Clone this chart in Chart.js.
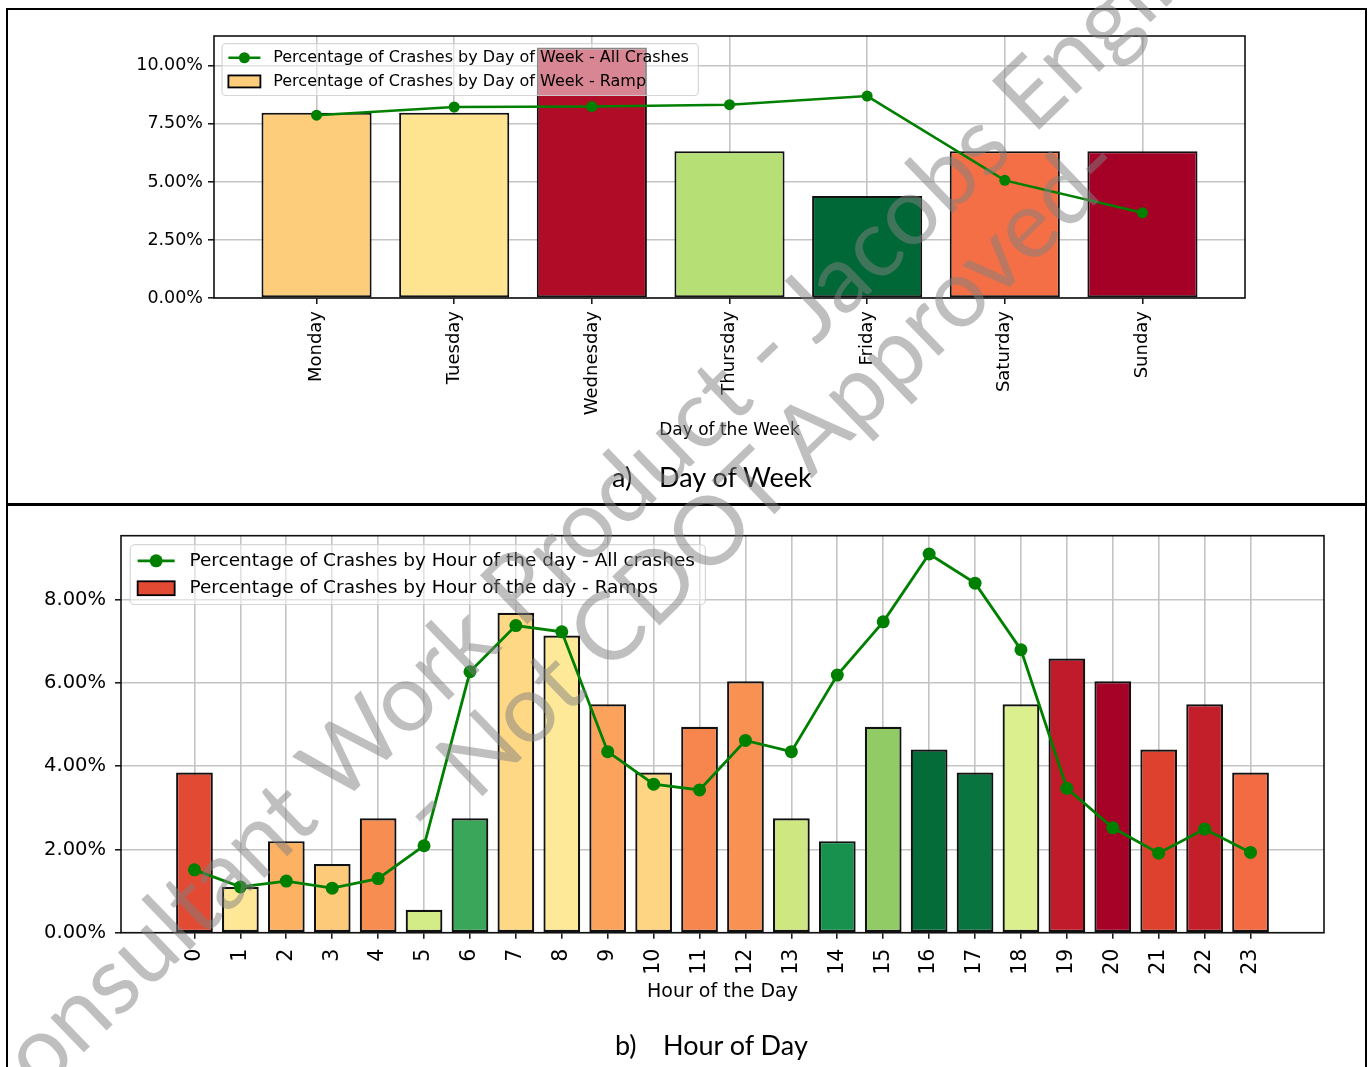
<!DOCTYPE html>
<html>
<head>
<meta charset="utf-8">
<title>Crash distribution by day of week and hour of day</title>
<script src="https://cdn.jsdelivr.net/npm/chart.js@4.4.1/dist/chart.umd.min.js"></script>
<style>
  html, body { margin: 0; padding: 0; background: #fff; }
  body { position: relative; width: 1368px; height: 1067px; overflow: hidden; }
  .panel { position: absolute; left: 0; width: 1368px; }
  .rule { position: absolute; background: #000; z-index: 3; }
  .caption { position: absolute; z-index: 2; font-family: Lato, "Open Sans", sans-serif; font-size: 27px; line-height: 27px; color: #000; white-space: pre; }
  .stamp { position: absolute; z-index: 5; pointer-events: none; font-family: Lato, "Open Sans", sans-serif; font-size: 95px; line-height: 95px; color: rgba(128,128,128,0.5); white-space: pre; transform-origin: 0 50%; }
</style>
</head>
<body>
<div class="panel" style="top:0;height:503px"><canvas id="dayChart"></canvas></div>
<div class="panel" style="top:505px;height:562px"><canvas id="hourChart"></canvas></div>

<div class="rule" style="left:6px;top:8px;width:1361px;height:2px"></div>
<div class="rule" style="left:6px;top:8px;width:2px;height:1059px"></div>
<div class="rule" style="left:1365px;top:8px;width:2px;height:1059px"></div>
<div class="rule" style="left:6px;top:503px;width:1361px;height:3px"></div>

<div class="caption" style="left:612px;top:463px">a)</div>
<div class="caption" style="left:659px;top:463px">Day of Week</div>
<div class="caption" style="left:615px;top:1031px">b)</div>
<div class="caption" style="left:663px;top:1031px">Hour of Day</div>

<div class="stamp" style="left:-30px;top:1064px;transform:rotate(-44deg)">Consultant Work Product - Jacobs Engineering</div>
<div class="stamp" style="left:408px;top:770px;transform:rotate(-44deg)">- Not CDOT Approved-</div>

<script>
// ---- Day of week ----
const days = ['Monday', 'Tuesday', 'Wednesday', 'Thursday', 'Friday', 'Saturday', 'Sunday'];
const dayRampPct = [7.98, 7.98, 10.79, 6.32, 4.39, 6.32, 6.32];
const dayAllPct = [7.88, 8.23, 8.25, 8.33, 8.70, 5.07, 3.67];
const dayAxisTicks = [0, 2.5, 5, 7.5, 10];

// ---- Hour of day ----
const hours = ['0', '1', '2', '3', '4', '5', '6', '7', '8', '9', '10', '11',
               '12', '13', '14', '15', '16', '17', '18', '19', '20', '21', '22', '23'];
const hourRampPct = [3.85, 1.10, 2.20, 1.65, 2.75, 0.55, 2.75, 7.69, 7.14, 5.49, 3.85, 4.95,
                     6.04, 2.75, 2.20, 4.95, 4.40, 3.85, 5.49, 6.59, 6.04, 4.40, 5.49, 3.85];
const hourAllPct = [1.51, 1.10, 1.24, 1.07, 1.30, 2.09, 6.27, 7.38, 7.23, 4.35, 3.57, 3.43,
                    4.62, 4.35, 6.19, 7.47, 9.10, 8.40, 6.80, 3.47, 2.52, 1.91, 2.49, 1.93];
const hourAxisTicks = [0, 2, 4, 6, 8];

// bar fills (RdYlGn shades)
const dayBarColors = ['#fdcd7b', '#fee391', '#b00c27', '#b6df75', '#006837', '#f46f45', '#a50026'];
const hourBarColors = ['#e24a33', '#fee797', '#fdb163', '#fdca79', '#f88d51', '#d3ec87', '#3aa659',
                       '#fed884', '#fee999', '#fba35d', '#fed683', '#f7864e', '#f99153', '#cfe780',
                       '#18914f', '#91cb66', '#036c39', '#08743f', '#dbef8f', '#bf1b2b', '#a60126',
                       '#de422f', '#c31f2a', '#f36b43'];

const GREEN = '#008000';
const GRID = '#c4c4c4';
const FONT = '"DejaVu Sans", sans-serif';

// axes frame on all four sides plus an in-plot legend box
const frameAndLegend = {
  id: 'frameAndLegend',
  afterDatasetsDraw(chart, args, opts) {
    const { ctx, chartArea: a } = chart;
    ctx.save();
    ctx.strokeStyle = '#111';
    ctx.lineWidth = 1.6;
    ctx.strokeRect(a.left, a.top, a.right - a.left, a.bottom - a.top);

    const fs = opts.fontSize;
    ctx.font = fs + 'px ' + FONT;
    const items = chart.data.datasets.map(ds => ({
      text: ds.label,
      kind: ds.type,
      color: Array.isArray(ds.backgroundColor) ? ds.backgroundColor[0] : ds.backgroundColor
    }));
    const textW = Math.max(...items.map(it => ctx.measureText(it.text).width));
    const pad = 0.4 * fs, handle = 2 * fs, gap = 0.8 * fs;
    const rowStep = 1.48 * fs, padV = 0.88 * fs;
    const x0 = a.left + 0.5 * fs, y0 = a.top + 0.48 * fs;
    const w = pad + handle + gap + textW + pad + 3;
    const h = 2 * padV + rowStep * (items.length - 1);

    ctx.beginPath();
    ctx.roundRect(x0, y0, w, h, 0.25 * fs);
    ctx.fillStyle = 'rgba(255,255,255,0.5)';
    ctx.fill();
    ctx.strokeStyle = 'rgba(210,210,210,0.9)';
    ctx.lineWidth = 1.2;
    ctx.stroke();

    items.forEach((it, i) => {
      const cy = y0 + padV + i * rowStep;
      const hx = x0 + pad;
      if (it.kind === 'line') {
        ctx.strokeStyle = it.color;
        ctx.lineWidth = opts.lineWidth;
        ctx.beginPath();
        ctx.moveTo(hx, cy);
        ctx.lineTo(hx + handle, cy);
        ctx.stroke();
        ctx.fillStyle = it.color;
        ctx.beginPath();
        ctx.arc(hx + handle / 2, cy, opts.markerRadius, 0, 2 * Math.PI);
        ctx.fill();
      } else {
        const sh = 0.75 * fs;
        ctx.fillStyle = it.color;
        ctx.fillRect(hx, cy - sh / 2, handle, sh);
        ctx.strokeStyle = '#000';
        ctx.lineWidth = 1.8;
        ctx.strokeRect(hx, cy - sh / 2, handle, sh);
      }
      ctx.fillStyle = '#000';
      ctx.textAlign = 'left';
      ctx.textBaseline = 'middle';
      ctx.fillText(it.text, hx + handle + gap, cy);
    });
    ctx.restore();
  }
};

function buildChart(id, spec) {
  return new Chart(document.getElementById(id), {
    type: 'bar',
    data: {
      datasets: [
        {
          type: 'line',
          label: spec.lineLabel,
          data: spec.lineVals.map((v, i) => ({ x: i, y: v })),
          borderColor: GREEN,
          backgroundColor: GREEN,
          borderWidth: spec.lineWidth,
          pointRadius: spec.markerRadius,
          pointHoverRadius: spec.markerRadius,
          pointBorderWidth: 0,
          tension: 0,
          order: 0
        },
        {
          type: 'bar',
          label: spec.barLabel,
          data: spec.barVals.map((v, i) => ({ x: i, y: v })),
          backgroundColor: spec.barColors,
          borderColor: '#111',
          borderWidth: spec.barEdge,
          borderSkipped: false,
          barPercentage: 0.8,
          categoryPercentage: 1,
          order: 1
        }
      ]
    },
    options: {
      responsive: true,
      maintainAspectRatio: false,
      animation: false,
      devicePixelRatio: 1,
      events: [],
      layout: { padding: spec.padding },
      plugins: {
        legend: { display: false },
        tooltip: { enabled: false },
        frameAndLegend: { fontSize: spec.legendSize, lineWidth: spec.lineWidth, markerRadius: spec.markerRadius }
      },
      scales: {
        x: {
          type: 'linear',
          min: spec.xMin,
          max: spec.xMax,
          offset: false,
          afterBuildTicks: s => { s.ticks = spec.labels.map((_, i) => ({ value: i })); },
          afterFit: s => { s.height = spec.xAxisHeight; },
          ticks: {
            autoSkip: false,
            minRotation: 90,
            maxRotation: 90,
            padding: spec.xTickPad,
            color: '#000',
            font: { family: FONT, size: spec.xTickSize },
            callback: v => spec.labels[v]
          },
          grid: { offset: false, color: GRID, lineWidth: 1.6, tickLength: 6, tickColor: '#111', tickWidth: 1.5 },
          border: { display: false },
          title: { display: true, text: spec.xTitle, color: '#000', padding: 0,
                   font: { family: FONT, size: spec.titleSize } }
        },
        y: {
          min: 0,
          max: spec.yMax,
          afterBuildTicks: s => { s.ticks = spec.yTicks.map(v => ({ value: v })); },
          afterFit: s => { s.width = spec.yAxisWidth; },
          ticks: {
            padding: spec.yTickPad,
            color: '#000',
            font: { family: FONT, size: spec.yTickSize },
            callback: v => v.toFixed(2) + '%'
          },
          grid: { color: GRID, lineWidth: 1.6, tickLength: 6, tickColor: '#111', tickWidth: 1.5 },
          border: { display: false }
        }
      }
    },
    plugins: [frameAndLegend]
  });
}

buildChart('dayChart', {
  labels: days,
  barVals: dayRampPct,
  lineVals: dayAllPct,
  barColors: dayBarColors,
  yTicks: dayAxisTicks,
  lineLabel: 'Percentage of Crashes by Day of Week - All Crashes',
  barLabel: 'Percentage of Crashes by Day of Week - Ramp',
  xTitle: 'Day of the Week',
  xMin: -0.745, xMax: 6.745, yMax: 11.29,
  padding: { top: 36, right: 123, bottom: 62, left: 0 },
  yAxisWidth: 214, xAxisHeight: 143,
  xTickSize: 18, yTickSize: 17.5, titleSize: 17, legendSize: 16,
  xTickPad: 7, yTickPad: 5,
  lineWidth: 2.5, markerRadius: 5.5, barEdge: 2
});

buildChart('hourChart', {
  labels: hours,
  barVals: hourRampPct,
  lineVals: hourAllPct,
  barColors: hourBarColors,
  yTicks: hourAxisTicks,
  lineLabel: 'Percentage of Crashes by Hour of the day - All crashes',
  barLabel: 'Percentage of Crashes by Hour of the day - Ramps',
  xTitle: 'Hour of the Day',
  xMin: -1.6, xMax: 24.6, yMax: 9.54,
  padding: { top: 30.7, right: 44, bottom: 64, left: 0 },
  yAxisWidth: 121, xAxisHeight: 70.3,
  xTickSize: 20.5, yTickSize: 19.5, titleSize: 19, legendSize: 18.5,
  xTickPad: 10, yTickPad: 9,
  lineWidth: 2.8, markerRadius: 6.5, barEdge: 2.2
});
</script>
</body>
</html>
